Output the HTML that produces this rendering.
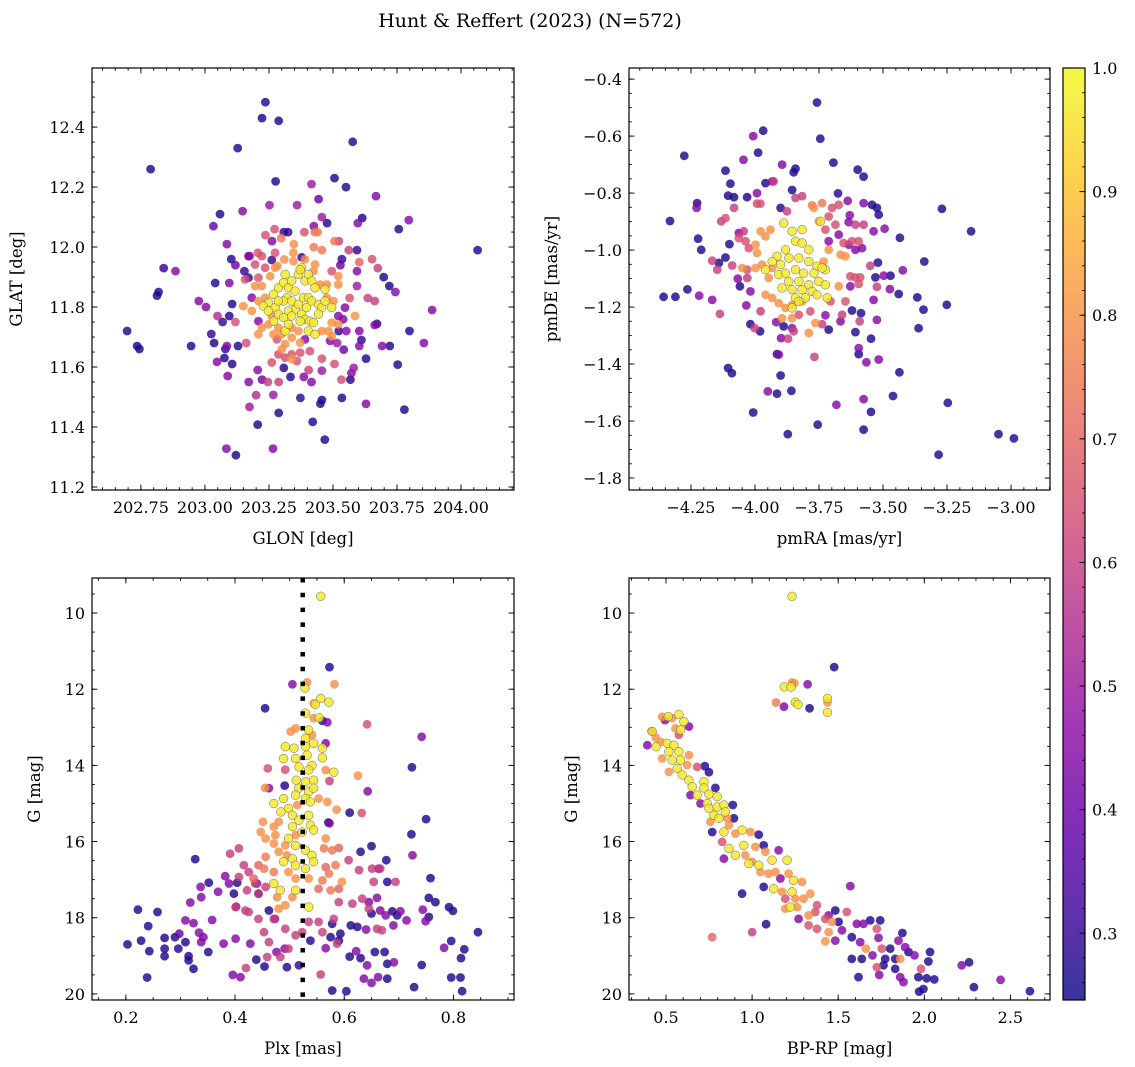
<!DOCTYPE html>
<html><head><meta charset="utf-8"><style>
html,body{margin:0;padding:0;background:#fff;}
svg{display:block;font-family:"DejaVu Serif","Liberation Serif",serif;}
</style></head><body>
<svg id="fig" width="1135" height="1067" viewBox="0 0 1135 1067" xmlns="http://www.w3.org/2000/svg">
<text x="530" y="27" text-anchor="middle" font-size="19">Hunt &amp; Reffert (2023) (N=572)</text>
</svg>
<script>
// ---------------- DATA ----------------
const lonLatStars = [[203.236,12.483,.27],[203.223,12.43,.27],[203.288,12.421,.27],[203.128,12.33,.27],[203.577,12.351,.27],[202.788,12.26,.27],[203.276,12.219,.27],[203.506,12.23,.27],[203.551,12.2,.27],[203.416,12.21,.5],[203.668,12.17,.45],[203.444,12.16,.4],[203.059,12.11,.27],[203.147,12.12,.45],[203.033,12.07,.4],[203.252,12.14,.5],[203.36,12.14,.5],[203.457,12.10,.5],[203.477,12.08,.27],[203.614,12.097,.27],[203.597,12.08,.45],[203.796,12.09,.45],[203.757,12.06,.27],[204.065,11.99,.27],[203.086,12.01,.45],[202.839,11.93,.3],[202.885,11.92,.45],[203.04,11.88,.27],[202.819,11.85,.27],[202.813,11.838,.27],[202.696,11.72,.27],[202.735,11.67,.27],[202.744,11.66,.27],[202.946,11.67,.27],[202.976,11.82,.45],[203.004,11.80,.45],[203.095,11.88,.45],[203.103,11.96,.27],[203.119,11.94,.4],[203.174,11.97,.45],[203.025,11.71,.3],[203.036,11.68,.27],[203.049,11.77,.55],[203.069,11.75,.3],[203.095,11.77,.27],[203.106,11.81,.27],[203.119,11.75,.65],[203.047,11.617,.45],[203.076,11.63,.27],[203.106,11.61,.27],[203.086,11.67,.45],[203.08,11.66,.3],[203.129,11.67,.27],[203.161,11.68,.65],[203.089,11.57,.45],[203.171,11.55,.45],[203.206,11.59,.45],[203.223,11.558,.4],[203.246,11.55,.6],[203.288,11.55,.6],[203.2,11.506,.55],[203.267,11.507,.5],[203.174,11.467,.5],[203.288,11.447,.27],[203.206,11.408,.27],[203.084,11.328,.45],[203.121,11.306,.27],[203.266,11.328,.45],[203.308,11.597,.27],[203.334,11.567,.27],[203.386,11.567,.45],[203.405,11.59,.6],[203.416,11.55,.45],[203.373,11.497,.3],[203.457,11.49,.27],[203.451,11.478,.27],[203.421,11.417,.27],[203.468,11.358,.27],[203.535,11.497,.27],[203.629,11.477,.45],[203.779,11.458,.27],[203.568,11.558,.27],[203.572,11.58,.45],[203.581,11.597,.5],[203.533,11.558,.65],[203.457,11.588,.5],[203.506,11.61,.65],[203.457,11.628,.65],[203.629,11.628,.27],[203.753,11.608,.27],[203.542,11.658,.4],[203.516,11.68,.5],[203.603,11.67,.45],[203.692,11.67,.45],[203.722,11.67,.27],[203.855,11.68,.45],[203.799,11.72,.27],[203.887,11.79,.45],[203.672,11.744,.27],[203.663,11.74,.45],[203.603,11.72,.45],[203.611,11.69,.3],[203.552,11.72,.45],[203.523,11.72,.3],[203.636,11.83,.6],[203.663,11.82,.6],[203.744,11.85,.45],[203.72,11.87,.27],[203.698,11.90,.27],[203.675,11.93,.6],[203.653,11.96,.65],[203.603,11.95,.7],[203.594,11.92,.45],[203.594,11.87,.5],[203.565,11.83,.65],[203.535,11.96,.3],[203.529,11.94,.4],[203.562,11.99,.6],[203.594,11.99,.3],[203.523,12.02,.6],[203.506,12.02,.75],[203.425,12.0,.75],[203.457,11.99,.75],[203.429,12.05,.75],[203.44,12.05,.75],[203.388,12.05,.65],[203.425,12.07,.45],[203.308,12.05,.3],[203.325,12.05,.3],[203.272,12.06,.65],[203.236,12.04,.65],[203.262,12.02,.45],[203.298,12.03,.75],[203.347,12.01,.8],
[203.207,11.981,.65],[203.222,11.97,.65],[203.274,11.981,.65],[203.261,11.957,.3],[203.17,11.97,.45],[203.346,11.981,.8],[203.378,11.966,.3],[203.31,11.959,.8],[203.196,11.942,.65],[203.235,11.931,.65],[203.274,11.931,.8],[203.283,11.937,.8],[203.154,11.92,.3],[203.17,11.898,.3],[203.157,11.892,.65],[203.209,11.898,.65],[203.255,11.903,.8],[203.346,11.953,.8],[203.391,11.959,.8],[203.43,11.942,.8],[203.424,11.92,.8],[203.378,11.931,.97],[203.313,11.909,.97],[203.495,11.92,.65],[203.521,11.903,.8],[203.521,11.875,.8],[203.476,11.875,.8],[203.196,11.87,.8],[203.222,11.87,.8],[203.183,11.831,.45],[203.209,11.82,.8],[203.235,11.831,.8],[203.248,11.814,.97],[203.268,11.842,.97],[203.287,11.864,.97],[203.307,11.881,.97],[203.326,11.864,.97],[203.339,11.887,.97],[203.365,11.909,.97],[203.372,11.925,.97],[203.391,11.887,.97],[203.404,11.909,.97],[203.417,11.887,.97],[203.43,11.864,.97],[203.45,11.875,.8],[203.469,11.859,.97],[203.476,11.831,.8],[203.32,11.831,.97],[203.339,11.82,.97],[203.352,11.792,.97],[203.365,11.809,.97],[203.385,11.831,.97],[203.404,11.831,.97],[203.417,11.82,.97],[203.443,11.809,.97],[203.456,11.798,.97],[203.469,11.82,.97],[203.495,11.798,.97],[203.502,11.82,.8],[203.274,11.798,.97],[203.287,11.776,.97],[203.307,11.765,.97],[203.326,11.787,.97],[203.339,11.77,.97],[203.378,11.776,.97],[203.391,11.759,.97],[203.41,11.753,.97],[203.424,11.748,.97],[203.443,11.776,.97],[203.15,11.803,.8],[203.183,11.787,.8],[203.228,11.803,.97],[203.248,11.787,.97],[203.261,11.77,.8],[203.209,11.753,.45],[203.222,11.731,.8],[203.248,11.742,.8],[203.268,11.753,.97],[203.287,11.731,.8],[203.313,11.72,.97],[203.339,11.731,.8],[203.365,11.72,.8],[203.404,11.72,.97],[203.43,11.709,.97],[203.456,11.72,.8],[203.482,11.72,.8],[203.495,11.748,.8],[203.521,11.77,.45],[203.547,11.798,.45],[203.586,11.77,.8],[203.521,11.742,.8],[203.54,11.759,.45],[203.209,11.709,.8],[203.268,11.709,.8],[203.3,11.709,.8],[203.339,11.698,.8],[203.372,11.681,.8],[203.313,11.676,.8],[203.281,11.692,.65],[203.391,11.692,.45],[203.489,11.687,.45],[203.495,11.703,.8],[203.3,11.659,.8],[203.287,11.642,.65],[203.339,11.642,.65],[203.339,11.626,.8],[203.359,11.62,.65],[203.372,11.648,.65],[203.41,11.653,.65],[203.261,11.615,.65],[203.313,11.631,.65],[203.352,11.853,.97],[203.307,11.82,.97],[203.372,11.753,.97],[203.326,11.742,.97],[203.397,11.798,.97],[203.287,11.82,.97]];

const pmStars = [[-3.758,-0.482,.27],[-3.745,-0.609,.27],[-3.968,-0.581,.27],[-4.007,-0.6,.45],[-3.988,-0.658,.27],[-4.045,-0.683,.45],[-4.276,-0.669,.27],[-4.115,-0.721,.27],[-4.096,-0.767,.27],[-3.894,-0.7,.45],[-3.842,-0.714,.27],[-3.849,-0.727,.27],[-3.694,-0.693,.27],[-3.599,-0.718,.27],[-3.576,-0.742,.27],[-3.959,-0.765,.27],[-3.927,-0.759,.6],[-3.933,-0.759,.45],[-3.855,-0.789,.27],[-4.105,-0.809,.27],[-4.082,-0.814,.27],[-4.031,-0.814,.27],[-3.992,-0.8,.45],[-3.992,-0.837,.65],[-3.979,-0.837,.65],[-4.226,-0.835,.27],[-4.228,-0.852,.45],[-4.332,-0.898,.27],[-4.115,-0.888,.65],[-4.132,-0.899,.6],[-4.082,-0.852,.6],[-3.9,-0.852,.27],[-3.875,-0.864,.6],[-3.842,-0.817,.6],[-3.816,-0.811,.6],[-3.777,-0.843,.75],[-3.738,-0.835,.75],[-3.676,-0.801,.27],[-3.638,-0.827,.45],[-3.699,-0.852,.65],[-3.673,-0.841,.65],[-3.576,-0.835,.45],[-3.543,-0.841,.27],[-3.524,-0.852,.27],[-3.517,-0.876,.27],[-3.63,-0.878,.45],[-3.634,-0.902,.45],[-3.608,-0.911,.6],[-3.576,-0.911,.6],[-3.537,-0.934,.45],[-3.494,-0.925,.45],[-3.434,-0.957,.27],[-3.27,-0.855,.27],[-3.156,-0.934,.27],[-4.222,-0.96,.27],[-4.21,-0.999,.27],[-4.141,-1.045,.27],[-4.167,-1.037,.6],[-4.147,-1.069,.6],[-4.115,-1.026,.27],[-4.1,-0.979,.27],[-4.089,-1.054,.6],[-4.063,-0.94,.45],[-4.044,-0.934,.6],[-4.067,-1.1,.45],[-4.059,-1.127,.27],[-4.03,-1.098,.6],[-4.018,-1.145,.45],[-4.034,-1.194,.45],[-3.978,-1.215,.6],[-4.018,-1.26,.27],[-4.001,-1.274,.6],[-3.98,-1.285,.27],[-4.357,-1.164,.27],[-4.311,-1.164,.27],[-4.264,-1.138,.27],[-4.218,-1.16,.45],[-4.167,-1.175,.45],[-4.137,-1.224,.6],[-3.917,-1.253,.45],[-3.888,-1.268,.27],[-3.855,-1.274,.45],[-3.849,-1.285,.6],[-3.898,-1.309,.45],[-3.871,-1.311,.6],[-3.914,-1.365,.27],[-3.907,-1.367,.45],[-3.768,-1.375,.6],[-3.79,-1.291,.8],[-3.764,-1.256,.8],[-3.738,-1.26,.6],[-3.712,-1.279,.27],[-3.725,-1.229,.45],[-3.666,-1.25,.45],[-3.66,-1.227,.6],[-3.621,-1.212,.27],[-3.586,-1.221,.27],[-3.591,-1.25,.6],[-3.608,-1.288,.27],[-3.547,-1.311,.27],[-3.524,-1.245,.45],[-3.595,-1.344,.45],[-3.595,-1.365,.27],[-3.565,-1.394,.45],[-3.517,-1.384,.45],[-4.105,-1.414,.27],[-4.09,-1.432,.27],[-3.9,-1.44,.27],[-3.95,-1.496,.45],[-3.914,-1.504,.27],[-3.858,-1.494,.27],[-4.007,-1.57,.27],[-3.872,-1.646,.27],[-3.755,-1.613,.27],[-3.682,-1.543,.45],[-3.576,-1.523,.45],[-3.547,-1.568,.27],[-3.576,-1.63,.27],[-3.461,-1.512,.27],[-3.436,-1.429,.27],[-3.247,-1.536,.27],[-3.283,-1.718,.27],[-3.049,-1.646,.27],[-2.989,-1.661,.27],[-3.361,-1.274,.27],[-3.342,-1.209,.27],[-3.366,-1.166,.27],[-3.251,-1.192,.27],[-3.439,-1.154,.27],[-3.473,-1.137,.45],[-3.524,-1.129,.6],[-3.537,-1.175,.45],[-3.53,-1.096,.27],[-3.497,-1.09,.45],[-3.471,-1.09,.27],[-3.423,-1.071,.45],[-3.52,-1.044,.27],[-3.55,-1.055,.6],[-3.339,-1.04,.27],[-3.628,-1.092,.65],[-3.608,-1.096,.65],[-3.589,-1.096,.65],[-3.628,-1.127,.45],[-3.595,-1.119,.65],[-3.673,-1.127,.8],[-3.705,-1.18,.65],[-3.647,-1.18,.65],[-3.634,-0.981,.45],[-3.608,-0.999,.45],[-3.582,-0.993,.45],[-3.595,-0.969,.65],[-3.621,-0.969,.65],[-3.654,-0.975,.65],[-3.666,-1.016,.8],[-3.647,-1.022,.8],[-3.673,-0.946,.45],[-3.686,-0.911,.65],[-3.712,-0.882,.65],[-3.725,-0.928,.65],[-3.712,-0.969,.45],[-3.712,-0.999,.8],[-3.732,-1.04,.8],[-3.751,-0.899,.8],[-3.77,-0.852,.8],
[-3.978,-0.934,.8],[-3.94,-0.928,.8],[-3.959,-0.952,.8],[-3.998,-0.981,.8],[-4.037,-0.969,.65],[-4.063,-0.958,.65],[-4.024,-0.993,.65],[-3.992,-1.01,.8],[-3.972,-1.051,.8],[-3.933,-1.063,.8],[-4.031,-1.069,.65],[-3.998,-1.063,.8],[-4.05,-1.063,.8],[-3.946,-1.098,.8],[-3.959,-1.157,.8],[-3.933,-1.168,.8],[-3.907,-1.186,.8],[-3.881,-1.203,.8],[-3.855,-1.192,.8],[-3.816,-1.18,.8],[-3.894,-1.239,.8],[-3.855,-1.239,.8],[-3.829,-1.227,.65],[-3.784,-1.215,.65],
[-3.888,-0.905,.97],[-3.855,-0.934,.97],[-3.816,-0.928,.97],[-3.744,-0.899,.97],[-3.842,-0.969,.97],[-3.816,-0.975,.97],[-3.79,-0.999,.97],[-3.881,-0.999,.97],[-3.914,-1.022,.97],[-3.933,-1.04,.97],[-3.9,-1.051,.97],[-3.868,-1.028,.97],[-3.829,-1.028,.97],[-3.79,-1.04,.97],[-3.758,-1.057,.97],[-3.725,-1.069,.97],[-3.959,-1.069,.97],[-3.907,-1.086,.97],[-3.881,-1.081,.97],[-3.842,-1.069,.97],[-3.81,-1.081,.97],[-3.77,-1.081,.97],[-3.868,-1.11,.97],[-3.829,-1.11,.97],[-3.79,-1.122,.97],[-3.751,-1.11,.97],[-3.725,-1.122,.97],[-3.894,-1.133,.97],[-3.855,-1.139,.97],[-3.816,-1.139,.97],[-3.777,-1.145,.97],[-3.842,-1.168,.97],[-3.803,-1.168,.97],[-3.758,-1.157,.97],[-3.855,-1.203,.97],[-3.829,-1.18,.97],[-3.718,-1.168,.97],[-3.738,-1.063,.97]];

const plxStars = [[0.557,9.56,.97],[0.573,11.42,.27],[0.505,11.87,.45],[0.582,11.87,.8],[0.532,11.82,.8],[0.528,11.97,.97],[0.455,12.5,.27],[0.557,12.24,.97],[0.572,12.34,.97],[0.547,12.4,.97],[0.544,12.37,.8],[0.529,12.63,.97],[0.554,12.75,.97],[0.544,12.76,.8],[0.569,12.87,.45],[0.56,12.83,.27],[0.642,12.92,.65],[0.742,13.25,.45],[0.502,13.11,.8],[0.511,13.03,.8],[0.535,13.07,.97],[0.541,13.2,.8],[0.566,13.42,.45],[0.529,13.29,.97],
[0.492,13.51,.97],[0.508,13.55,.97],[0.529,13.51,.97],[0.544,13.42,.97],[0.56,13.55,.97],[0.489,13.82,.97],[0.511,13.82,.97],[0.532,13.73,.97],[0.541,14.0,.97],[0.56,13.8,.97],[0.517,14.04,.97],[0.535,14.12,.97],[0.581,14.18,.97],[0.566,14.12,.8],[0.46,14.08,.65],[0.492,14.11,.65],[0.625,14.27,.8],[0.573,14.41,.6],[0.643,14.68,.45],[0.724,14.05,.27],[0.491,14.53,.27],[0.455,14.59,.8],[0.462,14.6,.45],
[0.512,14.39,.97],[0.529,14.43,.97],[0.544,14.39,.97],[0.517,14.6,.97],[0.535,14.69,.97],[0.544,14.6,.97],[0.511,14.78,.97],[0.529,14.87,.97],[0.489,14.87,.97],[0.471,15.0,.97],[0.498,15.13,.97],[0.514,15.04,.8],[0.538,14.96,.97],[0.553,14.87,.8],[0.569,14.96,.8],[0.586,15.16,.8],[0.61,15.24,.27],[0.632,15.25,.65],[0.75,15.41,.27],
[0.484,15.22,.97],[0.505,15.31,.97],[0.535,15.31,.97],[0.517,15.44,.97],[0.538,15.57,.97],[0.505,15.61,.97],[0.523,15.75,.97],[0.544,15.7,.97],[0.498,15.92,.97],[0.511,16.1,.97],[0.529,16.23,.97],[0.541,16.36,.97],[0.505,16.45,.97],[0.489,16.53,.97],[0.511,16.62,.97],[0.544,16.53,.97],[0.529,16.71,.97],[0.471,17.1,.97],[0.483,17.28,.97],[0.511,17.28,.97],[0.535,17.72,.97],
[0.451,15.48,.8],[0.447,15.75,.8],[0.471,15.61,.8],[0.48,15.48,.8],[0.456,15.92,.8],[0.474,15.83,.8],[0.471,16.05,.8],[0.492,16.1,.8],[0.456,16.4,.75],[0.48,16.27,.8],[0.495,16.36,.8],[0.511,15.83,.8],[0.566,15.92,.8],[0.563,16.18,.75],[0.578,16.23,.75],[0.59,16.17,.7],[0.584,16.62,.75],[0.572,16.84,.75],[0.566,16.67,.7],[0.596,17.06,.8],[0.56,17.02,.75],[0.575,17.28,.75],[0.477,17.46,.8],[0.492,17.67,.8],[0.48,17.76,.8],[0.505,17.46,.8],[0.511,16.97,.8],[0.471,16.8,.75],[0.453,16.71,.75],[0.434,16.97,.7],[0.443,16.62,.7],[0.498,16.8,.8],[0.535,16.97,.8],[0.553,17.24,.7],[0.59,17.24,.7],
[0.391,16.32,.6],[0.407,16.18,.6],[0.416,16.62,.6],[0.425,16.8,.6],[0.407,16.93,.6],[0.437,17.1,.6],[0.422,17.28,.6],[0.443,17.37,.6],[0.456,17.19,.6],[0.401,17.72,.6],[0.419,17.81,.6],[0.425,17.85,.6],[0.443,18.03,.6],[0.453,18.38,.6],[0.471,18.03,.6],[0.462,18.64,.6],[0.492,18.29,.6],[0.511,18.46,.6],[0.535,18.11,.6],[0.553,18.11,.6],[0.523,18.38,.6],[0.56,18.38,.6],[0.581,18.03,.6],[0.59,17.59,.6],[0.608,16.49,.6],[0.627,16.75,.6],[0.651,16.71,.6],[0.615,17.63,.6],[0.633,17.5,.6],[0.645,17.76,.6],[0.654,17.06,.6],[0.666,16.71,.6],[0.587,18.68,.6],[0.498,18.81,.6],[0.459,19.03,.6],[0.483,19.03,.6],[0.42,19.32,.6],[0.557,19.49,.6],[0.66,18.29,.6],[0.669,18.33,.6],[0.694,17.06,.6],
[0.327,16.46,.27],[0.382,16.91,.45],[0.389,17.1,.45],[0.352,17.08,.27],[0.337,17.19,.45],[0.369,17.32,.45],[0.318,17.6,.45],[0.338,17.46,.45],[0.404,17.08,.27],[0.398,17.37,.27],[0.402,17.71,.45],[0.44,17.1,.45],[0.443,17.37,.27],[0.462,17.81,.27],[0.473,18.03,.45],[0.358,18.06,.45],[0.379,18.68,.45],[0.401,18.55,.45],[0.41,19.56,.45],[0.396,19.5,.45],[0.428,18.68,.45],[0.439,19.1,.27],[0.454,19.28,.27],[0.476,18.9,.45],[0.491,18.81,.45],[0.495,19.3,.27],[0.517,19.25,.3],[0.538,18.6,.27],[0.566,18.8,.45],[0.575,18.51,.27],[0.578,18.16,.27],[0.593,18.42,.27],[0.59,18.6,.27],[0.578,19.91,.27],[0.604,19.93,.27],[0.61,19.02,.27],[0.622,18.88,.45],[0.63,19.06,.27],[0.642,19.25,.45],[0.636,19.6,.45],[0.65,19.71,.45],[0.662,19.56,.45],[0.679,19.6,.27],[0.656,18.9,.27],[0.674,18.9,.27],[0.679,19.21,.27],[0.691,19.17,.45],[0.612,18.2,.27],[0.624,18.24,.27],[0.64,18.31,.45],[0.65,17.89,.27],[0.666,17.81,.45],[0.676,17.94,.45],[0.688,17.83,.27],[0.703,17.83,.45],[0.69,18.2,.45],[0.697,17.94,.27],[0.714,18.07,.45],[0.679,17.06,.27],[0.663,16.71,.45],[0.677,16.49,.27],[0.63,16.27,.27],[0.65,16.12,.27],[0.645,17.59,.45],[0.66,17.48,.45],[0.758,16.96,.27],[0.755,17.48,.27],[0.767,17.59,.27],[0.744,17.79,.45],[0.749,18.09,.45],[0.755,17.98,.27],[0.725,16.36,.45],[0.723,15.81,.27],[0.792,17.72,.27],[0.799,17.82,.27],[0.845,18.38,.27],[0.796,18.61,.27],[0.783,18.79,.45],[0.82,18.83,.27],[0.814,19.06,.27],[0.742,19.24,.27],[0.728,19.82,.27],[0.796,19.57,.27],[0.813,19.57,.27],[0.816,19.93,.27],[0.571,15.5,.27],[0.573,15.52,.45],
[0.222,17.79,.27],[0.258,17.85,.27],[0.241,18.22,.27],[0.203,18.7,.27],[0.228,18.6,.27],[0.243,18.88,.27],[0.239,19.57,.27],[0.271,18.53,.27],[0.271,18.81,.27],[0.271,19.01,.27],[0.29,18.51,.27],[0.298,18.42,.4],[0.296,18.81,.27],[0.309,18.64,.27],[0.315,19.01,.27],[0.315,19.12,.27],[0.324,19.34,.27],[0.309,18.07,.45],[0.324,18.14,.45],[0.334,18.39,.45],[0.338,18.64,.45],[0.342,18.51,.45],[0.351,18.9,.27]];

const cmdStars = [[1.232,9.56,.97],[1.477,11.42,.27],[1.322,11.87,.45],[1.187,11.94,.97],[1.226,11.94,.97],[1.245,11.84,.8],[1.232,11.82,.8],[1.139,12.35,.75],[1.185,12.46,.45],[1.251,12.34,.97],[1.266,12.4,.97],[1.334,12.5,.27],[1.438,12.24,.97],[1.438,12.35,.8],[1.438,12.61,.97],
[0.478,12.72,.8],[0.513,12.72,.97],[0.575,12.66,.97],[0.536,12.76,.8],[0.604,12.85,.97],[0.494,12.81,.45],[0.555,13.03,.8],[0.584,13.07,.97],[0.633,12.98,.45],[0.575,13.2,.65],[0.42,13.11,.97],[0.416,13.1,.65],[0.44,13.27,.8],[0.391,13.47,.45],[0.443,13.51,.97],[0.469,13.38,.8],[0.507,13.42,.97],[0.546,13.47,.97],[0.575,13.64,.97],[0.517,13.64,.97],[0.478,13.82,.8],[0.536,13.86,.97],[0.584,13.86,.97],[0.633,13.73,.8],[0.623,13.99,.8],[0.565,14.08,.97],[0.517,14.17,.8],[0.594,14.25,.97],[0.633,14.39,.97],[0.681,14.04,.65],[0.725,14.02,.27],[0.749,14.18,.27],[0.652,14.56,.97],[0.72,14.43,.97],[0.72,14.59,.97],[0.681,14.78,.97],[0.749,14.76,.97],[0.797,14.82,.97],[0.787,14.59,.27],[0.7,15.0,.45],[0.642,14.78,.45],[0.739,15.0,.97],[0.749,15.13,.97],[0.797,15.09,.97],[0.836,15.04,.97],[0.845,15.22,.97],[0.888,15.04,.27],[0.778,15.31,.97],[0.807,15.39,.97],[0.758,15.48,.8],[0.855,15.39,.8],[0.894,15.39,.27],[0.768,15.75,.27],[0.836,15.75,.97],[0.865,15.57,.8],[0.903,15.79,.8],[0.942,15.7,.97],[0.99,15.75,.8],[1.038,15.82,.27],[0.826,16.01,.65],[0.836,16.45,.45],[0.865,16.18,.97],[0.903,16.36,.97],[0.952,16.1,.97],[0.961,16.36,.8],[0.981,16.58,.97],[1.0,16.53,.8],[1.019,16.14,.8],[1.067,16.1,.27],[1.077,16.27,.8],[1.116,16.49,.97],[1.154,16.23,.45],[1.203,16.49,.97],[1.038,16.62,.97],[1.048,16.8,.8],[1.096,16.84,.8],[1.135,16.8,.8],[1.164,16.97,.45],[1.212,16.84,.8],[1.241,17.02,.97],[1.29,17.06,.8],[1.125,17.24,.97],[1.067,17.19,.27],[1.174,17.32,.8],[1.232,17.32,.97],[1.251,17.5,.8],[1.299,17.5,.8],[1.193,17.5,.65],[1.338,17.37,.8],[1.377,17.67,.65],[1.222,17.72,.97],[1.261,17.72,.8],[1.193,17.76,.8],[1.27,18.03,.45],[1.328,17.94,.8],[1.367,17.85,.65],[1.328,18.2,.65],[1.377,18.29,.65],[1.425,18.03,.65],[1.444,17.94,.45],[1.483,17.81,.27],[1.464,18.11,.8],[1.502,18.11,.27],[1.522,18.33,.45],[1.444,18.38,.8],[1.425,18.62,.8],[1.483,18.6,.45],[1.55,17.85,.65],[1.57,17.17,.45],[0.942,17.37,.27],[1.081,18.17,.27],[1.0,18.38,.6],[0.768,18.51,.7],
[1.579,18.51,.27],[1.608,18.16,.45],[1.647,18.16,.45],[1.686,18.07,.27],[1.628,18.64,.45],[1.661,18.81,.8],[1.579,19.08,.27],[1.637,19.08,.27],[1.618,19.56,.27],[1.699,18.99,.45],[1.724,18.29,.65],[1.744,18.07,.27],[1.734,18.53,.45],[1.753,18.81,.65],[1.773,19.08,.27],[1.724,19.3,.65],[1.763,19.25,.27],[1.738,19.5,.45],[1.802,18.81,.27],[1.831,19.08,.27],[1.86,19.08,.8],[1.831,19.34,.27],[1.86,19.56,.45],[1.879,19.69,.45],[1.873,18.4,.27],[1.85,18.6,.45],[1.889,18.77,.45],[1.908,18.9,.27],[1.943,18.99,.45],[1.981,19.34,.65],[2.033,18.9,.27],[2.024,19.15,.27],[1.966,19.56,.27],[2.014,19.59,.27],[2.058,19.62,.27],[1.97,19.94,.27],[1.995,19.87,.27],[2.217,19.25,.45],[2.26,19.17,.27],[2.288,19.82,.27],[2.443,19.63,.45],[2.613,19.93,.27]];

// tick values and labels
const p1XTicks = [202.75,203.00,203.25,203.50,203.75,204.00];
const p1XLabels = ["202.75","203.00","203.25","203.50","203.75","204.00"];
const p1YTicks = [11.2,11.4,11.6,11.8,12.0,12.2,12.4];
const p1YLabels = ["11.2","11.4","11.6","11.8","12.0","12.2","12.4"];
const p2XTicks = [-4.25,-4.00,-3.75,-3.50,-3.25,-3.00];
const p2XLabels = ["\u22124.25","\u22124.00","\u22123.75","\u22123.50","\u22123.25","\u22123.00"];
const p2YTicks = [-1.8,-1.6,-1.4,-1.2,-1.0,-0.8,-0.6,-0.4];
const p2YLabels = ["\u22121.8","\u22121.6","\u22121.4","\u22121.2","\u22121.0","\u22120.8","\u22120.6","\u22120.4"];
const p3XTicks = [0.2,0.4,0.6,0.8];
const p3XLabels = ["0.2","0.4","0.6","0.8"];
const gTicks = [10,12,14,16,18,20];
const gLabels = ["10","12","14","16","18","20"];
const p4XTicks = [0.5,1.0,1.5,2.0,2.5];
const p4XLabels = ["0.5","1.0","1.5","2.0","2.5"];
const cbTicks = [0.3,0.4,0.5,0.6,0.7,0.8,0.9,1.0];
const cbLabels = ["0.3","0.4","0.5","0.6","0.7","0.8","0.9","1.0"];
const plxRef = [0.524];

// ---------------- RENDER ----------------
const NS = "http://www.w3.org/2000/svg";
const svg = document.getElementById('fig');
const TICKFS = 16, TITLEFS = 16.5;
function mk(tag, attrs, parent){
  const e = document.createElementNS(NS, tag);
  for (const k in attrs) e.setAttribute(k, attrs[k]);
  (parent||svg).appendChild(e);
  return e;
}
const VMIN = 0.246, VMAX = 1.0;
const plasma = [[13,8,135],[65,4,157],[106,0,168],[143,13,164],[177,42,144],[204,71,120],[225,100,98],[242,132,75],[252,166,54],[252,206,37],[240,249,33]];
function cmap(v){
  let t = (v-VMIN)/(VMAX-VMIN); t = Math.max(0,Math.min(1,t));
  const f = t*10, i = Math.min(9,Math.floor(f)), r = f-i;
  const a = plasma[i], b = plasma[i+1];
  return 'rgb('+a.map((c,k)=>Math.round(c+(b[k]-c)*r)).join(',')+')';
}

function panel(cfg){
  const {name,L,T,W,H,xlim,ylim,invertY} = cfg;
  const g = mk('g',{});
  
  
  const sx = v => L + (v-xlim[0])/(xlim[1]-xlim[0])*W;
  const sy = v => invertY ? T + (v-ylim[0])/(ylim[1]-ylim[0])*H : T + H - (v-ylim[0])/(ylim[1]-ylim[0])*H;
  const clipId = name+'-clip';
  const cp = mk('clipPath',{id:clipId}, g);
  mk('rect',{x:L,y:T,width:W,height:H}, cp);
  const pts = mk('g',{'clip-path':'url(#'+clipId+')'}, g);
  
  
  const sorted = cfg.data.slice().sort((a,b)=>a[2]-b[2]);
  sorted.forEach(d=>{
    const c = mk('circle',{cx:sx(d[0]).toFixed(1), cy:sy(d[1]).toFixed(1), r:4.4, fill:cmap(d[2]), 'fill-opacity':0.82}, pts);
    
    
    if (d[2] >= 0.9) { c.setAttribute('stroke','#666'); c.setAttribute('stroke-width','0.5'); }
  });
  if (cfg.vline){
    cfg.vline.forEach(v=>{
      const ln = mk('line',{x1:sx(v),x2:sx(v),y1:T,y2:T+H,stroke:'#000','stroke-width':4.5,'stroke-dasharray':'4.5 10.3'}, pts);
      
      
    });
  }
  const fr = mk('rect',{x:L,y:T,width:W,height:H,fill:'none',stroke:'#000','stroke-width':1.2}, g);
  
  
  const tk = mk('g',{stroke:'#000','stroke-width':0.9}, g);
  const eps = 1e-9;
  for (let v = Math.ceil(xlim[0]/cfg.xminor)*cfg.xminor; v <= xlim[1]+eps; v += cfg.xminor){
    const x = sx(v);
    mk('line',{x1:x,x2:x,y1:T+H,y2:T+H-2.8}, tk);
    mk('line',{x1:x,x2:x,y1:T,y2:T+2.8}, tk);
  }
  const ylo = Math.min(ylim[0],ylim[1]), yhi = Math.max(ylim[0],ylim[1]);
  for (let v = Math.ceil(ylo/cfg.yminor)*cfg.yminor; v <= yhi+eps; v += cfg.yminor){
    const y = sy(v);
    mk('line',{x1:L,x2:L+2.8,y1:y,y2:y}, tk);
    mk('line',{x1:L+W,x2:L+W-2.8,y1:y,y2:y}, tk);
  }
  cfg.xticks.forEach((v,i)=>{
    const x = sx(v);
    mk('line',{x1:x,x2:x,y1:T+H,y2:T+H-5.5}, tk);
    mk('line',{x1:x,x2:x,y1:T,y2:T+5.5}, tk);
    const t = mk('text',{x:x,y:T+H+23,'text-anchor':'middle','font-size':TICKFS}, g);
    t.textContent = cfg.xlabels[i];
    
    
  });
  cfg.yticks.forEach((v,i)=>{
    const y = sy(v);
    mk('line',{x1:L,x2:L+5.5,y1:y,y2:y}, tk);
    mk('line',{x1:L+W,x2:L+W-5.5,y1:y,y2:y}, tk);
    const t = mk('text',{x:L-7,y:y+6,'text-anchor':'end','font-size':TICKFS}, g);
    t.textContent = cfg.ylabels[i];
    
    
  });
  const xt = mk('text',{x:L+W/2,y:T+H+54,'text-anchor':'middle','font-size':TITLEFS}, g);
  xt.textContent = cfg.xtitle;
  
  
  const yt = mk('text',{x:cfg.ytx,y:T+H/2,'text-anchor':'middle','font-size':TITLEFS,transform:'rotate(-90 '+cfg.ytx+' '+(T+H/2)+')'}, g);
  yt.textContent = cfg.ytitle;
  
  
}

panel({name:'glon-glat-panel',L:92,T:68,W:422,H:422,xlim:[202.559,204.207],ylim:[11.19,12.597],data:lonLatStars,
  xticks:p1XTicks,xlabels:p1XLabels,yticks:p1YTicks,ylabels:p1YLabels,xminor:0.05,yminor:0.05,xtitle:'GLON [deg]',ytitle:'GLAT [deg]',ytx:22});
panel({name:'proper-motion-panel',L:629,T:68,W:421,H:422,xlim:[-4.492,-2.848],ylim:[-1.842,-0.361],data:pmStars,
  xticks:p2XTicks,xlabels:p2XLabels,yticks:p2YTicks,ylabels:p2YLabels,xminor:0.05,yminor:0.05,xtitle:'pmRA [mas/yr]',ytitle:'pmDE [mas/yr]',ytx:557});
panel({name:'parallax-mag-panel',L:92,T:578,W:422,H:422,xlim:[0.138,0.911],ylim:[9.08,20.16],invertY:true,data:plxStars,vline:plxRef,
  xticks:p3XTicks,xlabels:p3XLabels,yticks:gTicks,ylabels:gLabels,xminor:0.05,yminor:0.5,xtitle:'Plx [mas]',ytitle:'G [mag]',ytx:40});
panel({name:'cmd-panel',L:629,T:578,W:421,H:422,xlim:[0.285,2.73],ylim:[9.08,20.16],invertY:true,data:cmdStars,
  xticks:p4XTicks,xlabels:p4XLabels,yticks:gTicks,ylabels:gLabels,xminor:0.1,yminor:0.5,xtitle:'BP-RP [mag]',ytitle:'G [mag]',ytx:577});

(function(){
  const L=1063,T=68,W=22,H=932;
  const g = mk('g',{});
  
  
  const defs = mk('defs',{}, g);
  const lg = mk('linearGradient',{id:'cbgrad',x1:0,y1:1,x2:0,y2:0}, defs);
  for (let i=0;i<=20;i++){
    const v = VMIN + (VMAX-VMIN)*i/20;
    mk('stop',{offset:(i/20),'stop-color':cmap(v)}, lg);
  }
  const r = mk('rect',{x:L,y:T,width:W,height:H,fill:'url(#cbgrad)','fill-opacity':0.82}, g);
  
  
  mk('rect',{x:L,y:T,width:W,height:H,fill:'none',stroke:'#000','stroke-width':1.2}, g);
  const cy = v => T + H - (v-VMIN)/(VMAX-VMIN)*H;
  const tk = mk('g',{stroke:'#000','stroke-width':0.9}, g);
  for (let v=0.26; v<=1.0001; v+=0.02){
    mk('line',{x1:L+W,x2:L+W-2.8,y1:cy(v),y2:cy(v)}, tk);
  }
  cbTicks.forEach((v,i)=>{
    mk('line',{x1:L+W,x2:L+W-5.5,y1:cy(v),y2:cy(v)}, tk);
    const t = mk('text',{x:L+W+7,y:cy(v)+6,'font-size':TICKFS}, g);
    t.textContent = cbLabels[i];
    
    
  });
})();
</script>
</body></html>
